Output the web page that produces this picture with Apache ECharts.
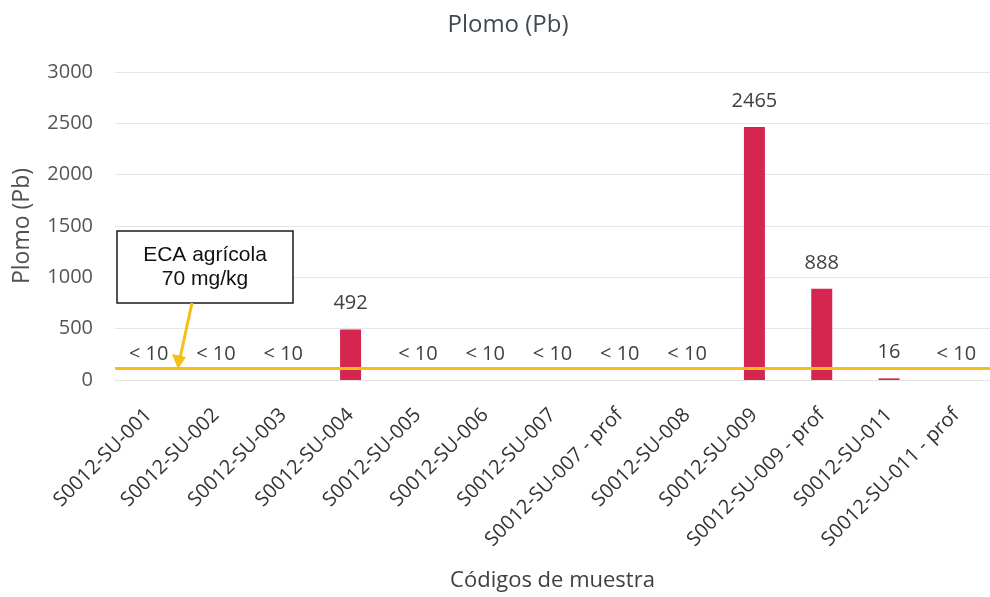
<!DOCTYPE html>
<html>
<head>
<meta charset="utf-8">
<script src="https://cdn.jsdelivr.net/npm/echarts@6/dist/echarts.min.js"></script>
<style>
  html, body { margin: 0; padding: 0; background: #fff; }
  #chart { width: 990px; height: 597px; }
</style>
</head>
<body>
<div id="chart"></div>
<script>
// ---- data ----
const categories = [
  'S0012-SU-001', 'S0012-SU-002', 'S0012-SU-003', 'S0012-SU-004',
  'S0012-SU-005', 'S0012-SU-006', 'S0012-SU-007', 'S0012-SU-007 - prof',
  'S0012-SU-008', 'S0012-SU-009', 'S0012-SU-009 - prof', 'S0012-SU-011',
  'S0012-SU-011 - prof'
];
// below-detection samples ("< 10") are drawn as zero-height bars
const leadValues = [0, 0, 0, 492, 0, 0, 0, 0, 0, 2465, 888, 16, 0];
const valueLabels = ['< 10', '< 10', '< 10', '492', '< 10', '< 10', '< 10', '< 10', '< 10', '2465', '888', '16', '< 10'];
const yTicks = [0, 500, 1000, 1500, 2000, 2500, 3000];
const ecaLineLevel = 115;          // level at which the yellow ECA line is drawn in the picture
const ecaText = ['ECA agrícola', '70 mg/kg'];

const FONT = 'Open Sans';
const chart = echarts.init(document.getElementById('chart'), null, { renderer: 'canvas' });

chart.setOption({
  animation: false,
  backgroundColor: '#ffffff',
  title: {
    text: 'Plomo (Pb)',
    left: 503,
    textAlign: 'center',
    top: 8,
    textStyle: { fontFamily: FONT, fontSize: 24, fontWeight: 'normal', color: '#3f4a52' }
  },
  grid: { left: 115, right: -12, top: 72, bottom: 217, containLabel: false },
  xAxis: {
    type: 'category',
    data: categories,
    name: 'Códigos de muestra',
    nameLocation: 'middle',
    nameGap: 190,
    nameTextStyle: { fontFamily: FONT, fontSize: 22, color: '#404040' },
    axisLine: { show: true, lineStyle: { color: '#e2e2e2', width: 1 } },
    axisTick: { show: false },
    axisLabel: {
      interval: 0,
      rotate: 45,
      margin: 32,
      fontFamily: FONT,
      fontSize: 20,
      color: '#333333'
    }
  },
  yAxis: {
    type: 'value',
    min: yTicks[0],
    max: yTicks[yTicks.length - 1],
    interval: yTicks[1] - yTicks[0],
    name: 'Plomo (Pb)',
    nameLocation: 'middle',
    nameGap: 81,
    nameTextStyle: { fontFamily: FONT, fontSize: 23, color: '#505050' },
    axisLine: { show: false },
    axisTick: { show: false },
    axisLabel: {
      margin: 22, fontFamily: FONT, fontSize: 20, color: '#555555',
      formatter: v => String(v)
    },
    splitLine: { lineStyle: { color: '#e6e6e6', width: 1 } }
  },
  series: [{
    type: 'bar',
    data: leadValues,
    barWidth: 21,
    itemStyle: { color: '#d4264f', borderWidth: 0 },
    label: {
      show: true,
      position: 'top',
      distance: 16,
      fontFamily: FONT,
      fontSize: 20,
      color: '#404040',
      formatter: p => valueLabels[p.dataIndex]
    },
    markLine: {
      silent: true,
      symbol: ['none', 'none'],
      label: { show: false },
      lineStyle: { color: '#f5bf16', width: 3, type: 'solid' },
      data: [{ yAxis: ecaLineLevel }]
    }
  }],
  graphic: [
    {
      type: 'rect',
      shape: { x: 117, y: 231, width: 176, height: 72 },
      style: { fill: '#ffffff', stroke: '#1a1a1a', lineWidth: 1.5 },
      z: 100
    },
    {
      type: 'text',
      x: 205, y: 255,
      style: {
        text: ecaText[0], fill: '#111111',
        font: '21px "Liberation Sans", Arial, sans-serif',
        textAlign: 'center', textVerticalAlign: 'middle'
      },
      z: 101
    },
    {
      type: 'text',
      x: 205, y: 279,
      style: {
        text: ecaText[1], fill: '#111111',
        font: '21px "Liberation Sans", Arial, sans-serif',
        textAlign: 'center', textVerticalAlign: 'middle'
      },
      z: 101
    },
    {
      type: 'line',
      shape: { x1: 192, y1: 303, x2: 180, y2: 358 },
      style: { stroke: '#f5bf16', lineWidth: 3 },
      z: 101
    },
    {
      type: 'polygon',
      shape: { points: [[172, 354], [186, 357], [178, 369]] },
      style: { fill: '#f5bf16' },
      z: 101
    }
  ]
});
</script>
</body>
</html>
